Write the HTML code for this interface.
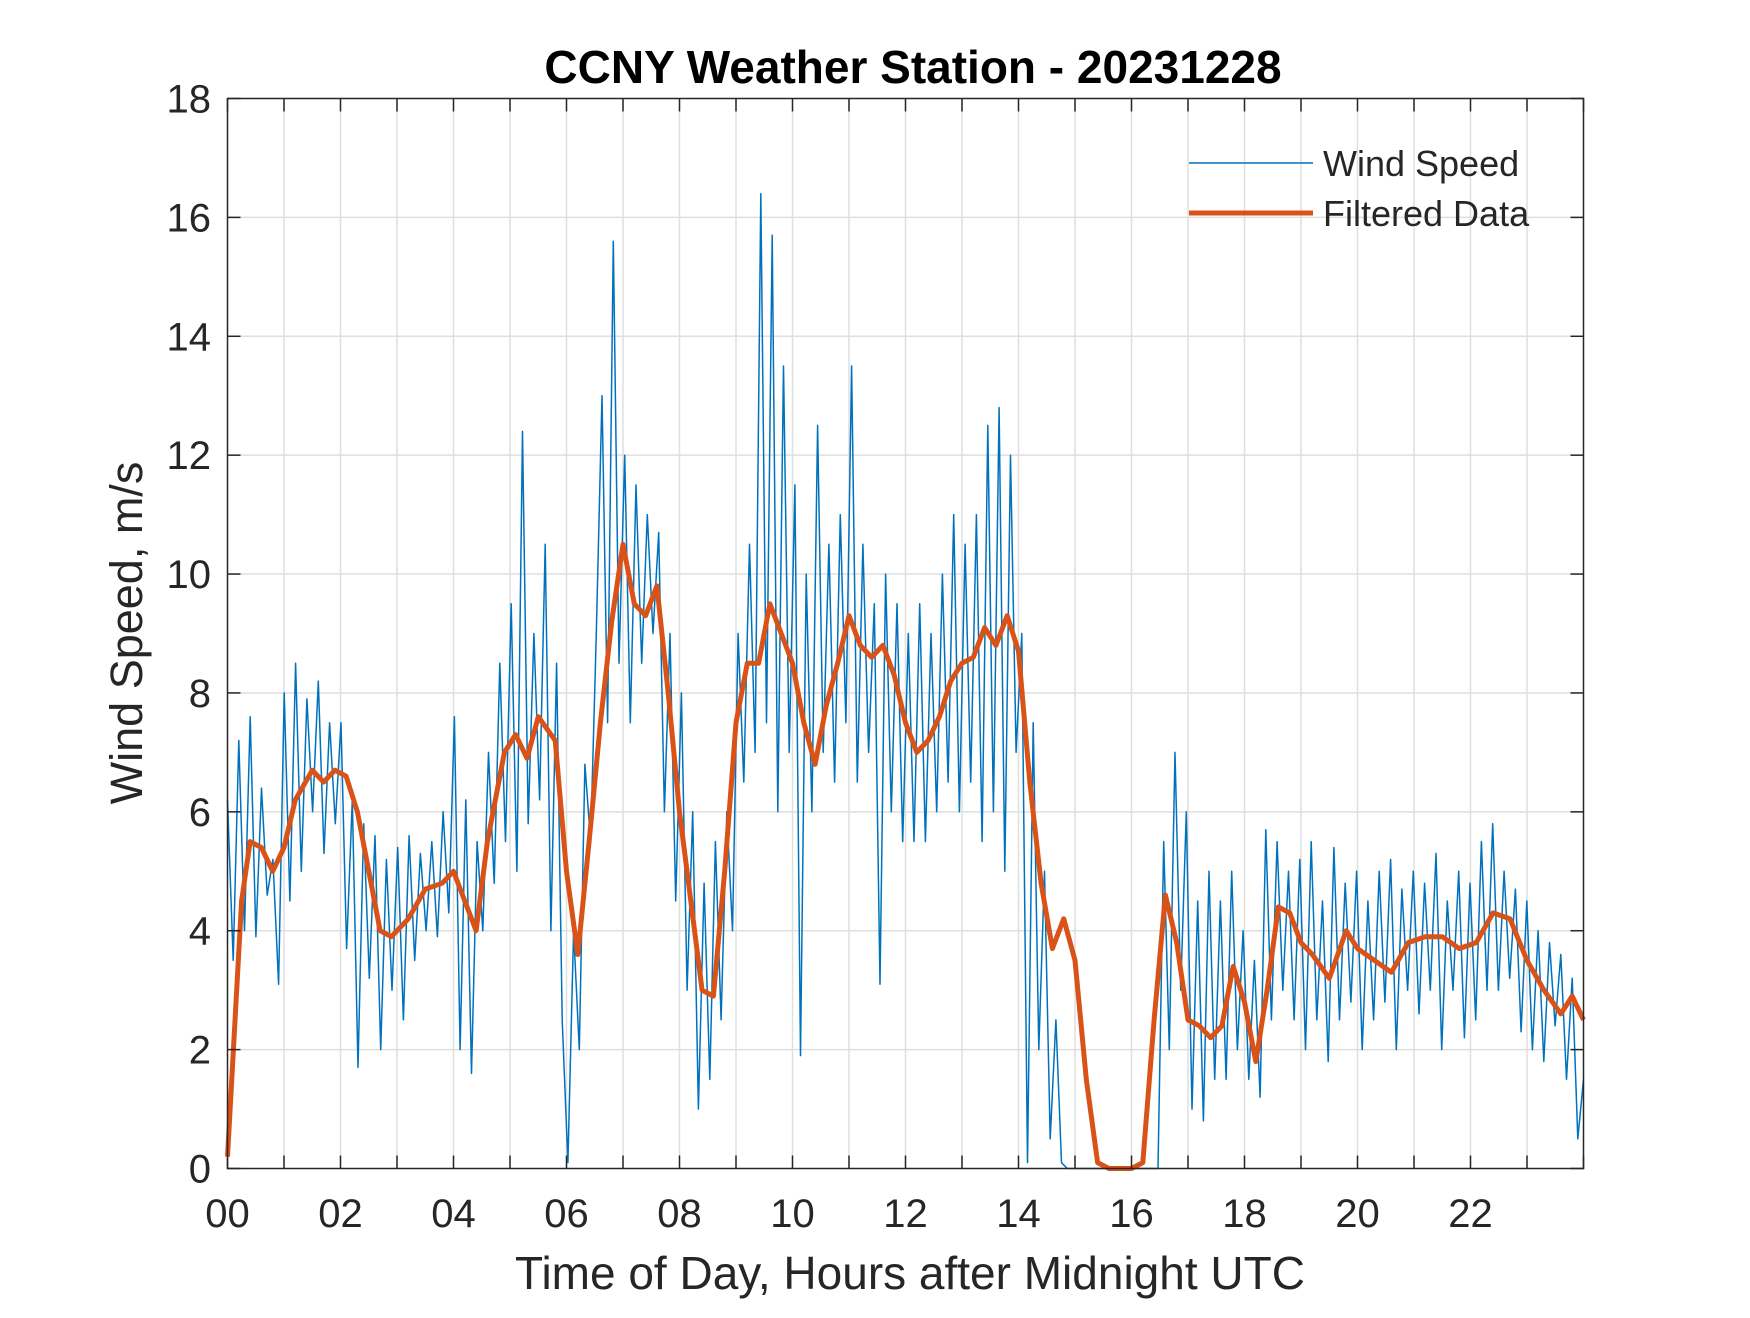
<!DOCTYPE html>
<html><head><meta charset="utf-8"><style>
html,body{margin:0;padding:0;background:#fff;}
svg text{font-family:"Liberation Sans",Arial,sans-serif;fill:#262626;}
</style></head><body>
<svg id="chart" width="1750" height="1313" viewBox="0 0 1750 1313" xmlns="http://www.w3.org/2000/svg">
<rect width="1750" height="1313" fill="#fff"/>
<g id="grid"></g>
<g id="series"></g>
<g id="axes"></g>
<text x="913" y="83" text-anchor="middle" font-size="46" font-weight="bold" style="fill:#000">CCNY Weather Station - 20231228</text>
<text x="910" y="1289" text-anchor="middle" font-size="46">Time of Day, Hours after Midnight UTC</text>
<text transform="translate(142,633) rotate(-90)" text-anchor="middle" font-size="45">Wind Speed, m/s</text>
<g>
<line x1="1189" y1="163" x2="1313" y2="163" stroke="#0072BD" stroke-width="1.5"/>
<text x="1323" y="176" font-size="36">Wind Speed</text>
<line x1="1189" y1="213" x2="1313" y2="213" stroke="#D95319" stroke-width="5"/>
<text x="1323" y="226" font-size="36">Filtered Data</text>
</g>
</svg>
<script>
const windSpeed = [
6.2,3.5,7.2,4.0,7.6,3.9,6.4,4.6,5.2,3.1,
8.0,4.5,8.5,5.0,7.9,6.0,8.2,5.3,7.5,5.8,
7.5,3.7,6.2,1.7,5.8,3.2,5.6,2.0,5.2,3.0,
5.4,2.5,5.6,3.5,5.3,4.0,5.5,3.9,6.0,4.3,
7.6,2.0,6.2,1.6,5.5,4.0,7.0,4.8,8.5,5.5,
9.5,5.0,12.4,5.8,9.0,6.2,10.5,4.0,8.5,2.5,
0.1,4.0,2.0,6.8,5.5,9.0,13.0,7.5,15.6,8.5,
12.0,7.5,11.5,8.5,11.0,9.0,10.7,6.0,9.0,4.5,
8.0,3.0,6.0,1.0,4.8,1.5,5.5,2.5,6.0,4.0,
9.0,6.5,10.5,7.0,16.4,7.5,15.7,6.0,13.5,7.0,
11.5,1.9,10.0,6.0,12.5,7.0,10.5,6.5,11.0,7.5,
13.5,6.5,10.5,7.0,9.5,3.1,10.0,6.0,9.5,5.5,
9.0,5.5,9.5,5.5,9.0,6.0,10.0,6.5,11.0,6.0,
10.5,6.5,11.0,5.5,12.5,6.0,12.8,5.0,12.0,7.0,
9.0,0.1,7.5,2.0,5.0,0.5,2.5,0.1,0.0,0.0,
0,0,0,0,0,0,0,0,0,0,
0,0,0,0,0,5.5,2.0,7.0,3.0,6.0,
1.0,4.5,0.8,5.0,1.5,4.5,1.5,5.0,2.0,4.0,
1.5,3.5,1.2,5.7,2.5,5.5,3.0,5.0,2.5,5.2,
2.0,5.5,2.5,4.5,1.8,5.4,2.5,4.8,2.8,5.0,
2.0,4.5,2.5,5.0,2.8,5.2,2.0,4.7,3.0,5.0,
2.6,4.8,3.0,5.3,2.0,4.5,3.0,5.0,2.2,4.8,
2.5,5.5,3.0,5.8,3.0,5.0,3.2,4.7,2.3,4.5,
2.0,4.0,1.8,3.8,2.4,3.6,1.5,3.2,0.5,1.5
];
const filteredHours = [0,0.25,0.4,0.6,0.8,1.0,1.2,1.5,1.7,1.9,2.1,2.3,2.5,2.7,2.9,3.2,3.5,3.8,4.0,4.2,4.4,4.6,4.9,5.1,5.3,5.5,5.8,6.0,6.2,6.4,6.6,6.8,7.0,7.2,7.4,7.6,7.8,8.0,8.2,8.4,8.6,8.8,9.0,9.2,9.4,9.6,9.8,10.0,10.2,10.4,10.6,10.8,11.0,11.2,11.4,11.6,11.8,12.0,12.2,12.4,12.6,12.8,13.0,13.2,13.4,13.6,13.8,14.0,14.2,14.4,14.6,14.8,15.0,15.2,15.4,15.6,16.0,16.2,16.4,16.6,16.8,17.0,17.2,17.4,17.6,17.8,18.0,18.2,18.4,18.6,18.8,19.0,19.2,19.5,19.8,20.0,20.3,20.6,20.9,21.2,21.5,21.8,22.1,22.4,22.7,23.0,23.3,23.6,23.8,24];
const filteredValues = [0.2,4.5,5.5,5.4,5.0,5.4,6.2,6.7,6.5,6.7,6.6,6.0,5.0,4.0,3.9,4.2,4.7,4.8,5.0,4.5,4.0,5.5,7.0,7.3,6.9,7.6,7.2,5.0,3.6,5.5,7.5,9.2,10.5,9.5,9.3,9.8,8.0,6.0,4.5,3.0,2.9,5.0,7.5,8.5,8.5,9.5,9.0,8.5,7.5,6.8,7.8,8.5,9.3,8.8,8.6,8.8,8.3,7.5,7.0,7.2,7.6,8.2,8.5,8.6,9.1,8.8,9.3,8.7,6.5,4.8,3.7,4.2,3.5,1.5,0.1,0,0,0.1,2.5,4.6,3.8,2.5,2.4,2.2,2.4,3.4,2.8,1.8,3.0,4.4,4.3,3.8,3.6,3.2,4.0,3.7,3.5,3.3,3.8,3.9,3.9,3.7,3.8,4.3,4.2,3.5,3.0,2.6,2.9,2.5];
const yTicks = [0,2,4,6,8,10,12,14,16,18];
const xTickLabels = ["00","02","04","06","08","10","12","14","16","18","20","22"];

const L=227.5,R=1583.5,T=98.5,B=1168.5;
const xs=h=>L+(R-L)*h/24;
const ys=v=>B-(B-T)*v/18;
const NS="http://www.w3.org/2000/svg";
function mk(tag,attrs,parent){const e=document.createElementNS(NS,tag);for(const k in attrs)e.setAttribute(k,attrs[k]);parent.appendChild(e);return e;}
const grid=document.getElementById('grid'),series=document.getElementById('series'),axes=document.getElementById('axes');
for(let h=1;h<24;h++){const l=mk('line',{x1:xs(h),x2:xs(h),y1:T,y2:B,stroke:'#dfdfdf','stroke-width':1.5},grid);

}
yTicks.forEach(v=>{if(v>0&&v<18){const l=mk('line',{x1:L,x2:R,y1:ys(v),y2:ys(v),stroke:'#dfdfdf','stroke-width':1.5},grid);

}});
let d='';windSpeed.forEach((v,i)=>{const h=i*24/(windSpeed.length-1);d+=(i?'L':'M')+xs(h).toFixed(1)+' '+ys(v).toFixed(1);});
const ws=mk('path',{d:d,fill:'none',stroke:'#0072BD','stroke-width':1.5,'stroke-linejoin':'round'},series);


let d2='';filteredValues.forEach((v,i)=>{d2+=(i?'L':'M')+xs(filteredHours[i]).toFixed(1)+' '+ys(v).toFixed(1);});
const fl=mk('path',{d:d2,fill:'none',stroke:'#D95319','stroke-width':5,'stroke-linejoin':'round'},series);


const box=mk('rect',{x:L,y:T,width:R-L,height:B-T,fill:'none',stroke:'#262626','stroke-width':1.5},axes);


for(let h=0;h<=24;h++){mk('line',{x1:xs(h),x2:xs(h),y1:B,y2:B-13,stroke:'#262626','stroke-width':1.5},axes);mk('line',{x1:xs(h),x2:xs(h),y1:T,y2:T+13,stroke:'#262626','stroke-width':1.5},axes);}
xTickLabels.forEach((s,i)=>{const t=mk('text',{x:xs(i*2),y:1227,'text-anchor':'middle','font-size':40},axes);t.textContent=s;

});
yTicks.forEach(v=>{mk('line',{x1:L,x2:L+13,y1:ys(v),y2:ys(v),stroke:'#262626','stroke-width':1.5},axes);mk('line',{x1:R,x2:R-13,y1:ys(v),y2:ys(v),stroke:'#262626','stroke-width':1.5},axes);
const t=mk('text',{x:211,y:ys(v)+14,'text-anchor':'end','font-size':40},axes);t.textContent=v;

});
</script>
</body></html>
